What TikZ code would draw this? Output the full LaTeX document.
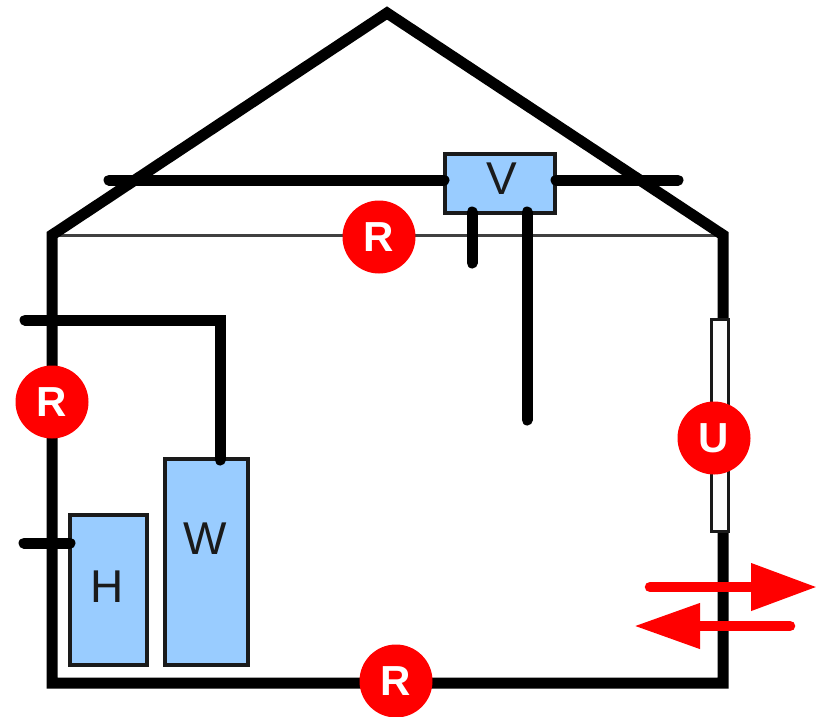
\documentclass[tikz,border=0pt]{standalone}
\usepackage{fontspec}
\setmainfont{Liberation Sans}
\usetikzlibrary{arrows.meta}
\definecolor{boxblue}{HTML}{99CCFF}
\definecolor{boxedge}{HTML}{1A1A1A}
\tikzset{x=1pt,y=-1pt,
 wall/.style={line width=11pt,line cap=round,line join=miter,black},
 duct/.style={line width=11pt,line cap=round,black},
 unit/.style={draw=boxedge,fill=boxblue,line width=4.5pt,inner sep=0pt,outer sep=0pt},
 unitlabel/.style={inner sep=0pt,font=\fontsize{46}{46}\selectfont,text=boxedge},
 badge/.style={circle,fill=red,text=white,minimum size=73pt,inner sep=0pt,font=\bfseries\fontsize{42}{42}\selectfont},
 flow/.style={draw=red,line width=10.5pt,line cap=round}}
\begin{document}
\begin{tikzpicture}
\useasboundingbox (0,0) rectangle (821,716);
\fill[white] (0,0) rectangle (821,716);
\coordinate (eaveL) at (52,235);
\coordinate (eaveR) at (723,235);
\coordinate (ridge) at (387,13);
\coordinate (floorL) at (52,683);
\coordinate (floorR) at (723,683);
% thin ceiling
\draw[line width=3pt,black!75] (eaveL) -- (eaveR);
% walls
\draw[wall] (floorR) -- (floorL) -- (eaveL) -- (ridge) -- (eaveR) -- cycle;
% window
\node[draw=boxedge,fill=white,line width=3pt,outer sep=0pt,minimum width=17pt,minimum height=212pt,inner sep=0pt] (win) at (720,425.5) {};
% units
\node[unit,minimum width=110pt,minimum height=59pt] (V) at (500,183.5) {};
\node[unitlabel] (Vt) at (502,179) {V};
\node[unit,minimum width=83pt,minimum height=206pt,anchor=north west] (W) at (165,459) {};
\node[unitlabel] (Wt) at (205,539) {W};
\node[unit,minimum width=77pt,minimum height=150pt,anchor=north west] (H) at (70,515) {};
\node[unitlabel] (Ht) at (107,587) {H};
% ducts
\coordinate (exL) at (109,180);
\coordinate (exR) at (678,180);
\coordinate (vL) at (444,180);
\coordinate (vR) at (556,180);
\coordinate (d1t) at (472,212);
\coordinate (d2t) at (527,212);
\coordinate (d1) at (472,263);
\coordinate (d2) at (527,420);
\draw[duct] (exL) -- (vL);
\draw[duct] (vR) -- (exR);
\draw[duct] (d1t) -- (d1);
\draw[duct] (d2t) -- (d2);
\coordinate (wIn) at (25,320);
\coordinate (wTop) at (220,460);
\coordinate (hIn) at (24,543);
\coordinate (hEnd) at (70,543);
\draw[duct,line join=miter] (wIn) -- (wIn -| wTop) -- (wTop);
\draw[duct] (hIn) -- (hEnd);
% badges
\node[badge] (R1) at (379,237) {R};
\node[badge] (R2) at (52,402) {R};
\node[badge] (R3) at (396,681) {R};
\node[badge] (U) at (714,438) {U};
% arrows
\coordinate (a1s) at (650,587);
\coordinate (a1e) at (817,587);
\coordinate (a2s) at (790,626);
\coordinate (a2e) at (634,626);
\draw[flow,-{Triangle[length=66pt,width=45pt]}] (a1s) -- (a1e);
\draw[flow,-{Triangle[length=66pt,width=43pt]}] (a2s) -- (a2e);
\end{tikzpicture}
\end{document}
